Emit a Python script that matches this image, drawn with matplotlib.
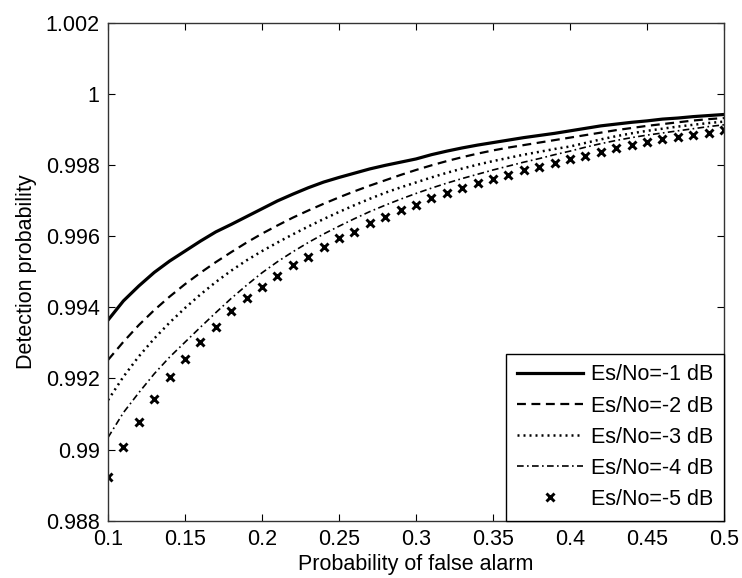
import matplotlib
matplotlib.use("Agg")
import matplotlib.pyplot as plt
from matplotlib.ticker import FixedLocator, FixedFormatter

plt.rcParams['font.family'] = ['Liberation Sans', 'DejaVu Sans']

# ---- data ----
pfa = [0.10, 0.11, 0.12, 0.13, 0.14, 0.15, 0.16, 0.17, 0.18, 0.19,
       0.20, 0.21, 0.22, 0.23, 0.24, 0.25, 0.26, 0.27, 0.28, 0.29,
       0.30, 0.31, 0.32, 0.33, 0.34, 0.35, 0.36, 0.37, 0.38, 0.39,
       0.40, 0.41, 0.42, 0.43, 0.44, 0.45, 0.46, 0.47, 0.48, 0.49, 0.50]

pd_m1 = [0.99364, 0.99418, 0.99460, 0.99498, 0.99530, 0.99558, 0.99586, 0.99612, 0.99633, 0.99655,
         0.99677, 0.99699, 0.99718, 0.99736, 0.99752, 0.99765, 0.99777, 0.99789, 0.99799, 0.99808,
         0.99817, 0.99829, 0.99839, 0.99848, 0.99856, 0.99863, 0.99870, 0.99877, 0.99883, 0.99889,
         0.99896, 0.99903, 0.99910, 0.99915, 0.99920, 0.99924, 0.99929, 0.99932, 0.99936, 0.99939, 0.99942]

pd_m2 = [0.99252, 0.99303, 0.99350, 0.99392, 0.99430, 0.99465, 0.99497, 0.99527, 0.99555, 0.99582,
         0.99607, 0.99630, 0.99652, 0.99672, 0.99691, 0.99709, 0.99726, 0.99742, 0.99757, 0.99772,
         0.99786, 0.99799, 0.99811, 0.99822, 0.99832, 0.99841, 0.99849, 0.99856, 0.99863, 0.99870,
         0.99877, 0.99884, 0.99891, 0.99898, 0.99904, 0.99910, 0.99915, 0.99920, 0.99925, 0.99929, 0.99932]

pd_m3 = [0.99139, 0.99205, 0.99262, 0.99312, 0.99357, 0.99398, 0.99436, 0.99471, 0.99503, 0.99532,
         0.99558, 0.99582, 0.99605, 0.99627, 0.99648, 0.99668, 0.99687, 0.99705, 0.99722, 0.99737,
         0.99751, 0.99765, 0.99778, 0.99790, 0.99801, 0.99811, 0.99820, 0.99829, 0.99837, 0.99845,
         0.99852, 0.99862, 0.99872, 0.99881, 0.99889, 0.99896, 0.99902, 0.99908, 0.99913, 0.99918, 0.99922]

pd_m4 = [0.99034, 0.99104, 0.99160, 0.99213, 0.99260, 0.99302, 0.99344, 0.99385, 0.99425, 0.99462,
         0.99497, 0.99528, 0.99556, 0.99582, 0.99606, 0.99628, 0.99649, 0.99669, 0.99687, 0.99704,
         0.99720, 0.99735, 0.99749, 0.99762, 0.99774, 0.99786, 0.99797, 0.99808, 0.99818, 0.99829,
         0.99839, 0.99850, 0.99860, 0.99869, 0.99877, 0.99884, 0.99890, 0.99896, 0.99902, 0.99908, 0.99913]

pd_m5 = [0.98924, 0.99008, 0.99078, 0.99142, 0.99205, 0.99255, 0.99303, 0.99345, 0.99390, 0.99425,
         0.99458, 0.99488, 0.99519, 0.99542, 0.99570, 0.99594, 0.99612, 0.99636, 0.99655, 0.99673,
         0.99687, 0.99706, 0.99720, 0.99734, 0.99748, 0.99762, 0.99772, 0.99786, 0.99795, 0.99806,
         0.99817, 0.99825, 0.99837, 0.99847, 0.99856, 0.99865, 0.99872, 0.99878, 0.99884, 0.99889, 0.99898]

labels = ['Es/No=-1 dB', 'Es/No=-2 dB', 'Es/No=-3 dB', 'Es/No=-4 dB', 'Es/No=-5 dB']

xtick_vals = [0.1, 0.15, 0.2, 0.25, 0.3, 0.35, 0.4, 0.45, 0.5]
xtick_labels = ['0.1', '0.15', '0.2', '0.25', '0.3', '0.35', '0.4', '0.45', '0.5']
ytick_vals = [0.988, 0.990, 0.992, 0.994, 0.996, 0.998, 1.000, 1.002]
ytick_labels = ['0.988', '0.99', '0.992', '0.994', '0.996', '0.998', '1', '1.002']

FS = 15.5

# ---- figure ----
fig = plt.figure(figsize=(7.42, 5.78), dpi=100)
ax = fig.add_axes([0.1456, 0.0991, 0.8301, 0.8616])

ax.plot(pfa, pd_m1, color='black', lw=2.3, ls='-', label=labels[0])
ax.plot(pfa, pd_m2, color='black', lw=1.6, ls=(0, (4, 2.5)), label=labels[1])
ax.plot(pfa, pd_m3, color='black', lw=1.8, ls=(0, (0.8, 1.6)), label=labels[2])
ax.plot(pfa, pd_m4, color='black', lw=1.2, ls=(0, (4, 2, 1, 2)), label=labels[3])
ax.plot(pfa, pd_m5, color='black', lw=0, marker='x', ms=5.5, mew=2.1, label=labels[4])

ax.set_xlim(0.1, 0.5)
ax.set_ylim(0.988, 1.002)
ax.xaxis.set_major_locator(FixedLocator(xtick_vals))
ax.xaxis.set_major_formatter(FixedFormatter(xtick_labels))
ax.yaxis.set_major_locator(FixedLocator(ytick_vals))
ax.yaxis.set_major_formatter(FixedFormatter(ytick_labels))

ax.tick_params(direction='in', length=5, width=0.8, top=True, right=True,
               labelsize=FS, pad=6, colors='black')
for s in ax.spines.values():
    s.set_linewidth(1.0)
    s.set_color('#333333')

ax.set_xlabel('Probability of false alarm', fontsize=FS, labelpad=3)
ax.set_ylabel('Detection probability', fontsize=FS, labelpad=6)

leg = ax.legend(loc='lower right', fontsize=FS, frameon=True, fancybox=False,
                edgecolor='black', framealpha=1, borderaxespad=0.0,
                handlelength=3.1, handletextpad=0.35, labelspacing=0.47,
                borderpad=0.5)
leg.get_frame().set_linewidth(1.0)

fig.savefig('out.png', dpi=100, facecolor='white')
